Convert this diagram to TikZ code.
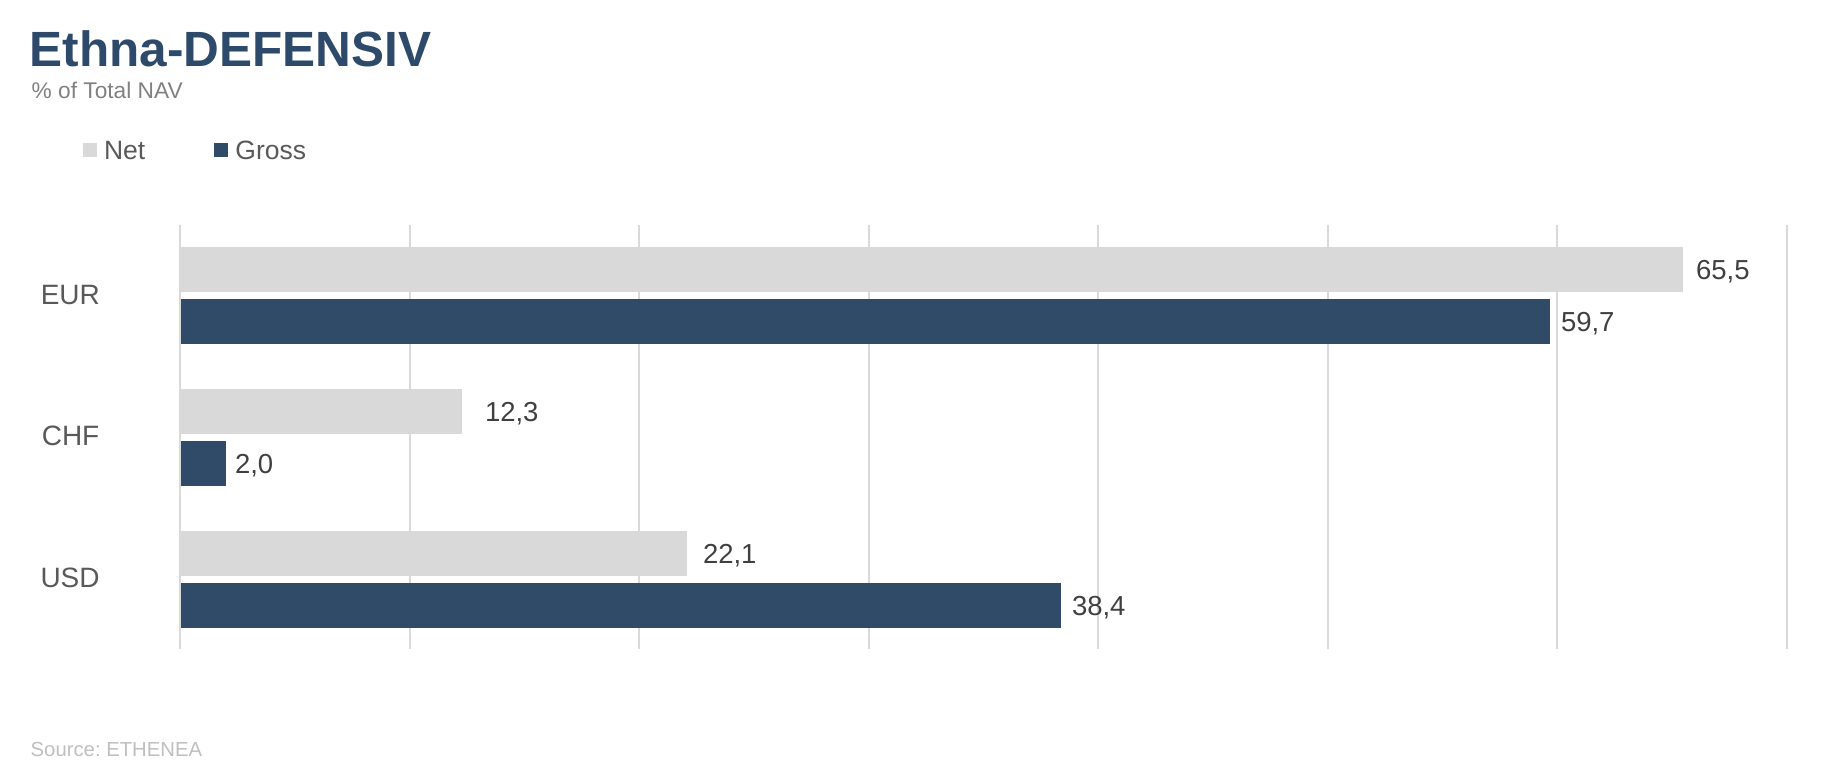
\documentclass[tikz,border=0pt]{standalone}
\usepackage{fontspec}
\setmainfont{Liberation Sans}
\frenchspacing
\definecolor{titleblue}{RGB}{46,74,106}
\definecolor{grossc}{RGB}{47,75,104}
\definecolor{netc}{RGB}{217,217,217}
\definecolor{gridc}{RGB}{217,217,217}
\definecolor{catc}{RGB}{89,89,89}
\definecolor{valc}{RGB}{64,64,64}
\definecolor{subc}{RGB}{128,128,128}
\definecolor{srcc}{RGB}{191,191,191}
\begin{document}
\begin{tikzpicture}[x=1pt,y=-1pt,
  txt/.style={inner sep=0pt, outer sep=0pt, anchor=base west},
  cat/.style={txt, text=catc, font=\fontsize{28}{32}\selectfont},
  val/.style={txt, text=valc, font=\fontsize{27.5}{32}\selectfont},
  gridline/.style={draw=gridc, line width=2pt},
  netbar/.style={fill=netc},
  grossbar/.style={fill=grossc}]
\useasboundingbox (0,0) rectangle (1846,775);
% title
\node[txt, text=titleblue, font=\fontsize{49.5}{56}\selectfont\bfseries] (title) at (29.7,66.7) {Ethna-DEFENSIV};
\node[txt, text=subc, font=\fontsize{22.7}{26}\selectfont] (sub) at (31.7,98.3) {\% of Total NAV};
% legend
\fill[netbar] (83.3,143.3) rectangle (96.7,157.3);
\node[txt, text=catc, font=\fontsize{26.5}{30}\selectfont] (lnet) at (104,159.3) {Net};
\fill[grossbar] (214.3,143.3) rectangle (227.7,157.3);
\node[txt, text=catc, font=\fontsize{26.5}{30}\selectfont] (lgross) at (235.4,159.3) {Gross};
% grid
\foreach \i in {0,...,7} {
  \draw[gridline] ({180+\i*229.5},225) -- ({180+\i*229.5},649);
}
% bars
\def\u{22.95}
\fill[netbar] (180,247) rectangle ({180+65.5*\u},291.7);
\fill[grossbar] (181,299) rectangle ({180+59.7*\u},343.7);
\fill[netbar] (180,389) rectangle ({180+12.3*\u},433.7);
\fill[grossbar] (181,441) rectangle ({180+2.0*\u},485.7);
\fill[netbar] (180,531) rectangle ({180+22.1*\u},575.7);
\fill[grossbar] (181,583) rectangle ({180+38.4*\u},627.7);
% value labels
\node[val] (v1) at (1696,279.4) {65,5};
\node[val] (v2) at (1561,331.4) {59,7};
\node[val] (v3) at (485,421.4) {12,3};
\node[val] (v4) at (235,473.4) {2,0};
\node[val] (v5) at (703,563.4) {22,1};
\node[val] (v6) at (1072,615.4) {38,4};
% categories
\node[cat] (eur) at (40.8,305) {EUR};
\node[cat] (chf) at (41.8,445.7) {CHF};
\node[cat] (usd) at (40.5,587) {USD};
% source
\node[txt, text=srcc, font=\fontsize{20.3}{24}\selectfont] (src) at (30.7,756) {Source: ETHENEA};
\end{tikzpicture}
\end{document}
